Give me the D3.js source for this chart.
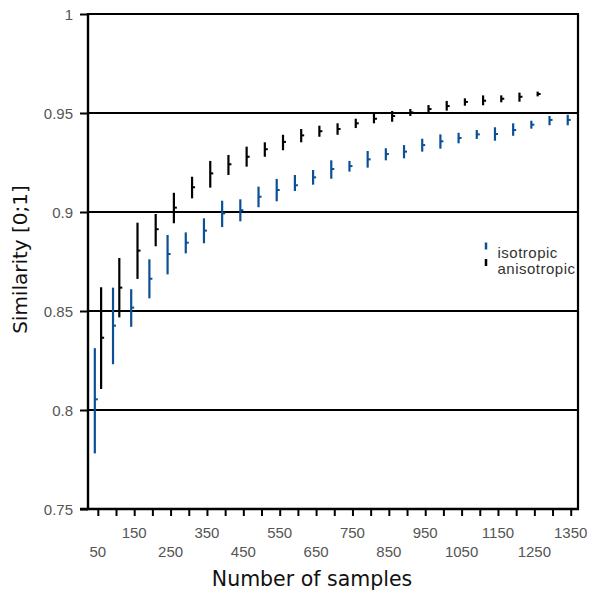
<!DOCTYPE html>
<html>
<head>
<meta charset="utf-8">
<script src="https://cdn.jsdelivr.net/npm/d3@7"></script>
<style>
  html, body { margin: 0; padding: 0; background: #fff; }
  svg { display: block; }
</style>
</head>
<body>
<svg id="chart" width="589" height="591"></svg>
<script>
// Number of samples used for each measurement
const isoSamples = d3.range(50, 1351, 50);     // 50 .. 1350
const anisoSamples = d3.range(50, 1251, 50);   // 50 .. 1250

// Isotropic similarity: mean and error range
const isoMean = [0.8054, 0.8426, 0.8517, 0.8663, 0.8788, 0.8845, 0.8906, 0.8993, 0.9009, 0.9077,
  0.9111, 0.9135, 0.9175, 0.9217, 0.9232, 0.9266, 0.9293, 0.9305, 0.9338, 0.9357,
  0.9374, 0.9392, 0.9394, 0.9414, 0.9441, 0.9465, 0.9465];
const isoLow = [0.7781, 0.8231, 0.8420, 0.8564, 0.8685, 0.8791, 0.8842, 0.8924, 0.8953, 0.9024,
  0.9054, 0.9106, 0.9138, 0.9168, 0.9204, 0.9224, 0.9261, 0.9271, 0.9305, 0.9320,
  0.9347, 0.9369, 0.9360, 0.9385, 0.9421, 0.9438, 0.9438];
const isoHigh = [0.8312, 0.8618, 0.8610, 0.8761, 0.8884, 0.8897, 0.8968, 0.9057, 0.9064, 0.9128,
  0.9167, 0.9187, 0.9212, 0.9261, 0.9258, 0.9308, 0.9322, 0.9338, 0.9370, 0.9392,
  0.9400, 0.9414, 0.9428, 0.9448, 0.9461, 0.9485, 0.9491];

// Anisotropic similarity: mean and error range
const anisoMean = [0.8365, 0.8618, 0.8805, 0.8913, 0.9022, 0.9125, 0.9195, 0.9241, 0.9279, 0.9317,
  0.9354, 0.9387, 0.9408, 0.9419, 0.9448, 0.9471, 0.9485, 0.9503, 0.9520, 0.9535,
  0.9556, 0.9562, 0.9572, 0.9582, 0.9596];
const anisoLow = [0.8106, 0.8468, 0.8662, 0.8827, 0.8943, 0.9069, 0.9123, 0.9187, 0.9229, 0.9279,
  0.9312, 0.9352, 0.9380, 0.9390, 0.9424, 0.9448, 0.9456, 0.9485, 0.9503, 0.9512,
  0.9537, 0.9539, 0.9554, 0.9557, 0.9584];
const anisoHigh = [0.8620, 0.8768, 0.8946, 0.8990, 0.9097, 0.9178, 0.9258, 0.9288, 0.9330, 0.9352,
  0.9390, 0.9419, 0.9436, 0.9448, 0.9471, 0.9495, 0.9510, 0.9520, 0.9540, 0.9561,
  0.9574, 0.9589, 0.9589, 0.9603, 0.9608];

// Axis ticks
const xTicks = d3.range(50, 1351, 50);
const xLabelled = d3.range(50, 1351, 100);
const yTicks = [0.75, 0.8, 0.85, 0.9, 0.95, 1];
const yTickLabels = ["0.75", "0.8", "0.85", "0.9", "0.95", "1"];

const seriesNames = ["isotropic", "anisotropic"];
const seriesColors = ["#0b4f94", "#000000"];

const svg = d3.select("#chart");
const plotLeft = 88, plotRight = 578, plotTop = 14, plotBottom = 509;

const x = d3.scaleLinear().domain([23, 1370]).range([plotLeft, plotRight]);
const y = d3.scaleLinear().domain([0.75, 1]).range([plotBottom, plotTop]);

const tickFont = "'Liberation Sans', Arial, sans-serif";
const titleFont = "'DejaVu Sans', Verdana, sans-serif";

// Horizontal grid lines at each y tick
svg.append("g")
  .selectAll("line")
  .data(yTicks)
  .join("line")
  .attr("x1", plotLeft).attr("x2", plotRight)
  .attr("y1", d => y(d)).attr("y2", d => y(d))
  .attr("stroke", "#000").attr("stroke-width", 2);

// Right border
svg.append("line")
  .attr("x1", plotRight).attr("x2", plotRight)
  .attr("y1", plotTop - 1).attr("y2", plotBottom + 1)
  .attr("stroke", "#000").attr("stroke-width", 2.2);

// Y axis
const yAxis = d3.axisLeft(y)
  .tickValues(yTicks)
  .tickFormat((d, i) => yTickLabels[i])
  .tickSize(8)
  .tickPadding(7);
const gy = svg.append("g").attr("transform", `translate(${plotLeft},0)`).call(yAxis);
gy.select(".domain").attr("stroke-width", 2.4).attr("d", `M0,${plotTop - 1}V${plotBottom + 1}`);
gy.selectAll(".tick line").attr("stroke-width", 2);
gy.selectAll(".tick text")
  .attr("font-family", tickFont).attr("font-size", 15).attr("fill", "#555")
  .attr("dy", "0.35em");

// X axis
const xAxis = d3.axisBottom(x)
  .tickValues(xTicks)
  .tickFormat("")
  .tickSize(7);
const gx = svg.append("g").attr("transform", `translate(0,${plotBottom})`).call(xAxis);
gx.select(".domain").attr("stroke-width", 2.4).attr("d", `M${plotLeft - 8},0H${plotRight + 1}`);
gx.selectAll(".tick line").attr("stroke-width", 2);

// Staggered x tick labels
svg.append("g")
  .selectAll("text")
  .data(xLabelled)
  .join("text")
  .attr("x", d => x(d))
  .attr("y", (d, i) => i % 2 === 0 ? 556.5 : 538)
  .attr("text-anchor", "middle")
  .attr("font-family", tickFont).attr("font-size", 15).attr("fill", "#555")
  .text(d => d);

// Error bars with mean markers
function drawSeries(samples, mean, low, high, color, shift) {
  const g = svg.append("g");
  const rows = samples.map((n, i) => ({ n, m: mean[i], lo: low[i], hi: high[i] }));
  g.selectAll("line.bar")
    .data(rows)
    .join("line")
    .attr("class", "bar")
    .attr("x1", d => x(d.n) + shift).attr("x2", d => x(d.n) + shift)
    .attr("y1", d => y(d.lo)).attr("y2", d => y(d.hi))
    .attr("stroke", color).attr("stroke-width", 2.2);
  g.selectAll("line.mean")
    .data(rows)
    .join("line")
    .attr("class", "mean")
    .attr("x1", d => x(d.n) + shift).attr("x2", d => x(d.n) + shift + 3)
    .attr("y1", d => y(d.m)).attr("y2", d => y(d.m))
    .attr("stroke", color).attr("stroke-width", 2);
}
drawSeries(isoSamples, isoMean, isoLow, isoHigh, seriesColors[0], -3);
drawSeries(anisoSamples, anisoMean, anisoLow, anisoHigh, seriesColors[1], 3.3);

// Legend
const legend = svg.append("g");
seriesNames.forEach((name, i) => {
  const base = 257.5 + i * 16.5;
  legend.append("line")
    .attr("x1", 486).attr("x2", 486)
    .attr("y1", base - 15).attr("y2", base - 8)
    .attr("stroke", seriesColors[i]).attr("stroke-width", 2.5);
  legend.append("text")
    .attr("x", 497.5).attr("y", base)
    .attr("font-family", tickFont).attr("font-size", 15)
    .attr("letter-spacing", 0.5)
    .attr("fill", "#333")
    .text(name);
});

// Axis titles
svg.append("text")
  .attr("x", 312).attr("y", 586)
  .attr("text-anchor", "middle")
  .attr("font-family", titleFont).attr("font-size", 20.5).attr("fill", "#111")
  .text("Number of samples");

svg.append("text")
  .attr("transform", "translate(26.5,259.5) rotate(-90)")
  .attr("text-anchor", "middle")
  .attr("font-family", titleFont).attr("font-size", 20).attr("fill", "#111")
  .text("Similarity [0;1]");
</script>
</body>
</html>
